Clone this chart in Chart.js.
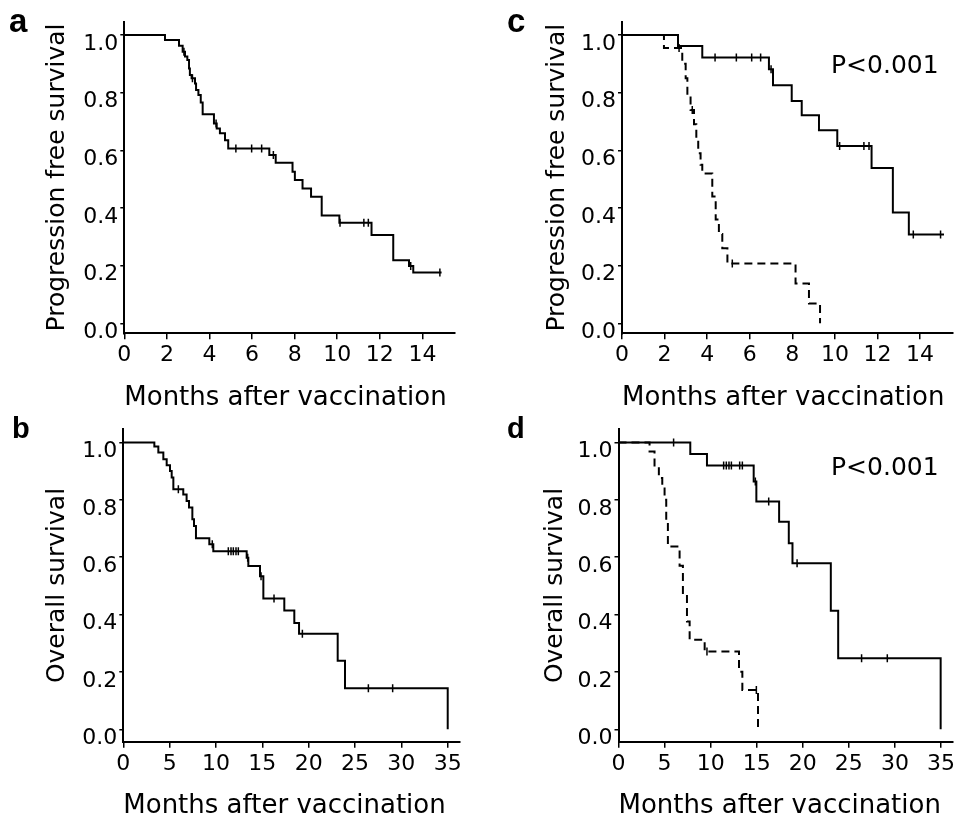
<!DOCTYPE html>
<html>
<head>
<meta charset="utf-8">
<script src="https://cdn.jsdelivr.net/npm/chart.js@4.4.1/dist/chart.umd.min.js"></script>
<style>
  html, body { margin: 0; padding: 0; background: #fff; overflow: hidden; }
  #wrap { position: relative; width: 963px; height: 818px; }
  #wrap canvas { position: absolute; left: 0; top: 0; }
</style>
</head>
<body>
<div id="wrap">
  <canvas id="pa" width="963" height="840"></canvas>
  <canvas id="pb" width="963" height="840"></canvas>
  <canvas id="pc" width="963" height="840"></canvas>
  <canvas id="pd" width="963" height="840"></canvas>
</div>
<script>
// ---- data (months, survival) ----
const pfsTicks = [0, 2, 4, 6, 8, 10, 12, 14];
const osTicks = [0, 5, 10, 15, 20, 25, 30, 35];
const survTicks = [0, 0.2, 0.4, 0.6, 0.8, 1.0];

// a: progression free survival, all patients
const aTimes = [0, 1.91, 2.57, 2.74, 2.85, 2.96, 3.04, 3.08, 3.16, 3.32, 3.37, 3.48, 3.59, 3.68, 4.21, 4.34, 4.49, 4.73, 4.88, 6.81, 7.11, 7.90, 8.01, 8.37, 8.77, 9.27, 10.10, 11.61, 12.63, 13.37, 13.57, 14.90];
const aSurv = [1.0, 0.983, 0.963, 0.942, 0.925, 0.913, 0.884, 0.861, 0.850, 0.832, 0.809, 0.792, 0.766, 0.725, 0.693, 0.676, 0.659, 0.635, 0.606, 0.584, 0.557, 0.526, 0.497, 0.468, 0.439, 0.374, 0.349, 0.306, 0.219, 0.199, 0.176, 0.176];
const aCensor = [2.80, 3.20, 4.31, 5.24, 5.98, 6.45, 7.00, 10.13, 11.25, 11.46, 13.45, 14.82];

// b: overall survival, all patients
const bTimes = [0, 3.35, 3.78, 4.32, 4.68, 5.04, 5.22, 5.40, 6.47, 6.83, 7.09, 7.45, 7.63, 7.84, 9.28, 9.71, 13.31, 13.49, 14.75, 15.11, 17.37, 18.45, 18.96, 23.13, 23.92, 35.0];
const bSurv = [1.0, 0.986, 0.965, 0.942, 0.921, 0.901, 0.878, 0.837, 0.819, 0.796, 0.773, 0.732, 0.709, 0.666, 0.645, 0.621, 0.598, 0.569, 0.534, 0.456, 0.414, 0.371, 0.333, 0.239, 0.143, 0.0];
const bCensor = [5.94, 9.60, 11.33, 11.62, 11.87, 12.16, 12.41, 13.42, 14.86, 16.26, 19.32, 26.44, 29.06];

// c: progression free survival by group (solid / dashed)
const cTimesSolid = [0, 2.63, 3.77, 6.90, 7.09, 7.97, 8.44, 9.25, 10.11, 11.72, 12.72, 13.47, 15.12];
const cSurvSolid = [1.0, 0.962, 0.922, 0.881, 0.826, 0.771, 0.722, 0.670, 0.615, 0.539, 0.384, 0.308, 0.308];
const cCensorSolid = [4.37, 5.37, 6.09, 6.51, 7.00, 10.22, 11.36, 11.60, 13.68, 14.96];
const cTimesDashed = [0, 1.97, 2.83, 2.99, 3.07, 3.22, 3.38, 3.49, 3.58, 3.69, 3.77, 4.24, 4.40, 4.55, 4.71, 4.95, 8.15, 8.78, 9.30];
const cSurvDashed = [1.0, 0.955, 0.90, 0.85, 0.79, 0.74, 0.69, 0.64, 0.59, 0.55, 0.52, 0.44, 0.36, 0.31, 0.26, 0.207, 0.138, 0.069, 0.0];
const cCensorDashed = [2.68, 3.30, 5.18];

// d: overall survival by group (solid / dashed)
const dTimesSolid = [0, 7.79, 9.60, 14.67, 14.96, 17.43, 18.48, 18.88, 23.04, 23.84, 34.96];
const dSurvSolid = [1.0, 0.960, 0.920, 0.864, 0.794, 0.724, 0.649, 0.579, 0.413, 0.248, 0.0];
const dCensorSolid = [5.98, 11.41, 11.70, 11.99, 12.25, 13.15, 13.44, 14.85, 16.30, 19.38, 26.38, 29.17];
const dTimesDashed = [0, 3.37, 3.91, 4.38, 4.75, 5.0, 5.18, 5.36, 6.63, 6.99, 7.43, 7.72, 9.35, 13.08, 13.44, 15.14];
const dSurvDashed = [1.0, 0.969, 0.916, 0.876, 0.84, 0.80, 0.72, 0.637, 0.57, 0.47, 0.376, 0.312, 0.271, 0.201, 0.137, 0.0];
const dCensorDashed = [9.60, 14.96];

// ---- helpers ----
function survAt(times, surv, t) {
  let v = surv[0];
  for (let i = 0; i < times.length; i++) if (times[i] <= t) v = surv[i];
  return v;
}
const curve = (times, surv) => times.map((t, i) => ({ x: t, y: surv[i] }));
const marks = (cens, times, surv) => cens.map(t => ({ x: t, y: survAt(times, surv, t) }));

const annot = {
  id: 'annot',
  afterDraw(chart, args, opts) {
    const ctx = chart.ctx;
    (opts.items || []).forEach(it => {
      ctx.save();
      ctx.font = it.font;
      ctx.fillStyle = '#000';
      ctx.textBaseline = 'alphabetic';
      ctx.fillText(it.text, it.x, it.y);
      ctx.restore();
    });
  }
};

const FONT = 'DejaVu Sans';
const CH = 840;

function kmLine(times, surv, dashed) {
  return { data: curve(times, surv), stepped: true, borderColor: '#000', borderWidth: 2,
           borderDash: dashed ? [8, 5] : [], pointRadius: 0, fill: false };
}
function kmMarks(cens, times, surv) {
  return { data: marks(cens, times, surv), showLine: false, pointStyle: 'line', rotation: 90,
           pointRadius: 4, pointBorderWidth: 1.5, pointBorderColor: '#000', borderColor: '#000' };
}

function makePanel(id, g, datasets, yTitle, xTicks, items) {
  const unit = g.y0 - g.y1;
  const yMin = -(g.B - g.y0) / unit;
  const yMax = 1 + (g.y1 - g.T) / unit;
  const padLeft = g.yTitleX - 15;
  const xBottom = g.xTitleY + 13;
  new Chart(document.getElementById(id), {
    type: 'line',
    data: { datasets },
    plugins: [annot],
    options: {
      responsive: false, animation: false, events: [],
      layout: { padding: { left: padLeft, top: g.T, right: 963 - g.R, bottom: CH - xBottom } },
      plugins: { legend: { display: false }, tooltip: { enabled: false }, annot: { items } },
      scales: {
        x: {
          type: 'linear', min: 0, max: g.xmax,
          afterBuildTicks: s => { s.ticks = xTicks.map(v => ({ value: v })); },
          afterFit: s => { s.height = xBottom - g.B; },
          border: { display: true, color: '#000', width: 2 },
          grid: { display: true, drawOnChartArea: false, drawTicks: true, tickLength: 6, color: '#000', lineWidth: 1.5 },
          ticks: { color: '#000', font: { family: FONT, size: 22 }, padding: 3, maxRotation: 0, autoSkip: false },
          title: { display: true, text: 'Months after vaccination', color: '#000', align: 'start',
                   font: { family: FONT, size: 26, lineHeight: 1.0 }, padding: 0 }
        },
        y: {
          type: 'linear', min: yMin, max: yMax,
          afterBuildTicks: s => { s.ticks = survTicks.map(v => ({ value: v })); },
          afterFit: s => { s.width = g.L - padLeft; },
          border: { display: true, color: '#000', width: 2 },
          grid: { display: true, drawOnChartArea: false, drawTicks: true, tickLength: 4, color: '#000', lineWidth: 1.5 },
          ticks: { color: '#000', font: { family: FONT, size: 22 }, padding: 2, labelOffset: 9,
                   callback: v => Number(v).toFixed(1) },
          title: { display: true, text: yTitle, color: '#000',
                   font: { family: FONT, size: 25, lineHeight: 1.2 }, padding: 0 }
        }
      }
    }
  });
}

const bigLetter = 'bold 33px "Liberation Sans"';
const smallLetter = 'bold 29px "Liberation Sans"';
const pFont = '25px "DejaVu Sans"';

makePanel('pa',
  { L: 124.3, R: 455, T: 21.7, B: 333.3, y1: 35, y0: 323.3, yTitleX: 57.5, xTitleY: 398, xmax: 15.53 },
  [kmLine(aTimes, aSurv, false), kmMarks(aCensor, aTimes, aSurv)],
  'Progression free survival', pfsTicks,
  [{ text: 'a', x: 9, y: 32, font: bigLetter }]);

makePanel('pc',
  { L: 622, R: 952.7, T: 22, B: 333.3, y1: 35, y0: 323.3, yTitleX: 557.5, xTitleY: 398, xmax: 15.53 },
  [kmLine(cTimesSolid, cSurvSolid, false), kmMarks(cCensorSolid, cTimesSolid, cSurvSolid),
   kmLine(cTimesDashed, cSurvDashed, true), kmMarks(cCensorDashed, cTimesDashed, cSurvDashed)],
  'Progression free survival', pfsTicks,
  [{ text: 'c', x: 507, y: 32, font: bigLetter }, { text: 'P<0.001', x: 831, y: 73, font: pFont }]);

makePanel('pb',
  { L: 123.3, R: 459.3, T: 429.3, B: 741.7, y1: 442.5, y0: 729.3, yTitleX: 57.5, xTitleY: 806, xmax: 36.25 },
  [kmLine(bTimes, bSurv, false), kmMarks(bCensor, bTimes, bSurv)],
  'Overall survival', osTicks,
  [{ text: 'b', x: 12, y: 438, font: smallLetter }]);

makePanel('pd',
  { L: 618.5, R: 953, T: 429.3, B: 741.7, y1: 442.5, y0: 729.3, yTitleX: 555, xTitleY: 806, xmax: 36.3 },
  [kmLine(dTimesSolid, dSurvSolid, false), kmMarks(dCensorSolid, dTimesSolid, dSurvSolid),
   kmLine(dTimesDashed, dSurvDashed, true), kmMarks(dCensorDashed, dTimesDashed, dSurvDashed)],
  'Overall survival', osTicks,
  [{ text: 'd', x: 507, y: 438, font: smallLetter }, { text: 'P<0.001', x: 831, y: 475, font: pFont }]);
</script>
</body>
</html>
